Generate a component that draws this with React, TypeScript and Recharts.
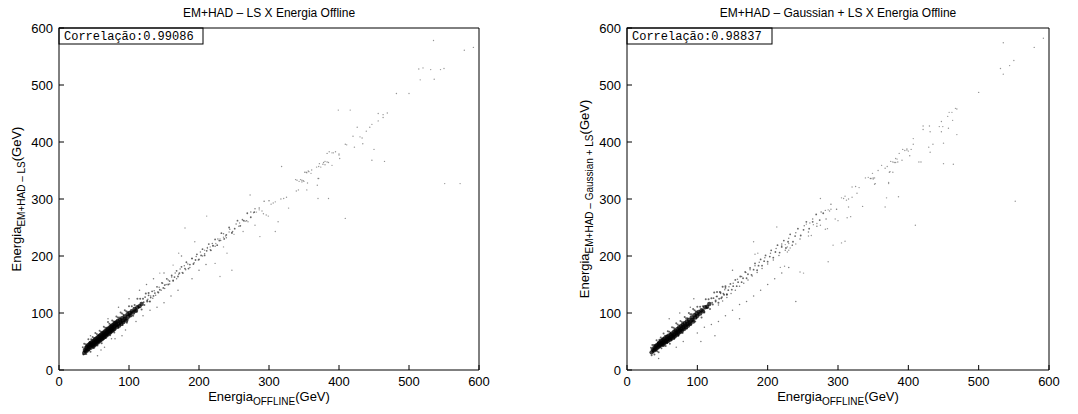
import React from 'react';
import { ScatterChart, Scatter, XAxis, YAxis } from 'recharts';

// eixos: 0..600 GeV nos dois gráficos
const TICKS = [0, 100, 200, 300, 400, 500, 600];

// EM+HAD - LS : núcleo denso, espalhamento, faixa, halo e cauda
const lsCore = [
  [36, 30], [37, 35], [38, 33], [39, 39], [40, 34], [40, 41], [42, 37], [42, 44], [43, 40], [44, 46],
  [45, 39], [45, 44], [46, 48], [47, 43], [48, 50], [48, 45], [49, 41], [50, 52], [50, 47], [51, 44],
  [52, 54], [52, 49], [53, 46], [54, 56], [54, 51], [55, 48], [56, 58], [56, 53], [57, 50], [58, 60],
  [58, 55], [59, 52], [60, 62], [60, 57], [61, 54], [62, 64], [62, 59], [63, 56], [64, 66], [64, 61],
  [65, 58], [66, 68], [66, 63], [67, 60], [68, 70], [68, 65], [69, 62], [70, 72], [70, 67], [71, 64],
  [72, 74], [72, 69], [73, 66], [74, 76], [74, 71], [75, 68], [76, 78], [76, 73], [77, 70], [78, 80],
  [78, 75], [79, 72], [80, 82], [80, 77], [82, 84], [82, 79], [83, 76], [84, 86], [85, 81], [86, 78],
  [87, 88], [88, 84], [89, 81], [90, 91], [91, 87], [92, 84], [94, 94], [95, 90], [96, 87], [98, 98],
  [99, 94], [101, 100], [102, 96], [104, 103], [106, 101], [108, 107], [110, 104], [112, 110], [115, 112],
  [118, 116],
];

const lsFuzz = [
  [34, 40], [35, 27], [36, 46], [37, 33], [38, 45], [39, 28], [40, 44], [41, 35], [42, 54], [43, 34],
  [44, 49], [45, 32], [46, 54], [47, 42], [48, 58], [49, 39], [50, 56], [51, 44], [52, 65], [53, 49],
  [54, 63], [55, 43], [56, 61], [57, 49], [58, 69], [59, 53], [60, 67], [61, 47], [62, 66], [63, 54],
  [64, 76], [65, 60], [66, 74], [67, 56], [68, 74], [69, 62], [70, 84], [71, 67], [72, 81], [73, 61],
  [74, 79], [75, 67], [76, 87], [77, 71], [78, 85], [79, 66], [80, 84], [81, 72], [82, 94], [83, 78],
  [84, 92], [85, 74], [86, 92], [87, 80], [88, 101], [89, 85], [90, 99], [91, 79], [92, 97], [93, 85],
  [94, 105], [95, 89], [96, 103], [97, 83], [98, 102], [99, 90], [100, 112], [102, 97], [104, 112],
  [106, 95], [108, 114], [110, 103], [112, 125], [114, 110], [116, 125], [118, 106], [120, 125], [122, 114],
  [124, 134], [126, 120], [128, 135], [130, 120],
];

const lsBand = [
  [121, 119], [123, 128], [126, 122], [128, 131], [131, 127], [133, 138], [135, 130], [137, 135], [140, 146],
  [142, 136], [144, 141], [147, 153], [149, 144], [151, 149], [154, 160], [156, 150], [158, 156], [161, 166],
  [163, 157], [165, 163], [168, 174], [170, 164], [172, 170], [175, 181], [177, 170], [180, 178], [182, 189],
  [185, 178], [187, 185], [190, 196], [192, 186], [195, 193], [197, 203], [200, 194], [203, 201], [205, 212],
  [208, 201], [211, 209], [214, 221], [217, 210], [220, 218], [223, 229], [226, 219], [229, 227], [232, 240],
  [236, 230], [239, 237], [243, 250], [247, 241], [251, 248], [255, 262], [259, 253], [264, 262], [269, 275],
  [274, 268], [279, 277],
];

const lsHalo = [
  [127, 124], [129, 120], [131, 130], [134, 126], [136, 139], [138, 131], [141, 137], [143, 145], [146, 140],
  [148, 152], [151, 143], [153, 150], [156, 158], [158, 151], [161, 163], [163, 156], [166, 170], [168, 160],
  [171, 168], [173, 177], [176, 171], [179, 183], [181, 176], [184, 186], [187, 180], [190, 195], [193, 188],
  [196, 199], [199, 193], [202, 207], [205, 200], [208, 204], [212, 215], [216, 211], [219, 222], [223, 217],
  [227, 230], [231, 227], [235, 239], [239, 232], [244, 247], [248, 243], [253, 256], [257, 252], [262, 264],
  [268, 262], [274, 277], [280, 283], [286, 284], [293, 296], [300, 297],
  [45, 60], [60, 35], [75, 55], [85, 110], [95, 70], [110, 85], [120, 95], [130, 105], [140, 110], [150, 118],
  [100, 125], [70, 90], [55, 25], [80, 55], [115, 140], [125, 150], [160, 130], [170, 140], [175, 200],
  [190, 160], [200, 175], [210, 185], [150, 170], [135, 160], [90, 60], [65, 40],
];

const lsTail = [
  [392, 381], [395, 383], [400, 377], [377, 361], [372, 362], [380, 360], [385, 364], [318, 357], [353, 347],
  [356, 349], [360, 345], [370, 336], [340, 333], [343, 331], [338, 334], [347, 330], [350, 331], [339, 314],
  [342, 316], [354, 316], [385, 301], [321, 301], [325, 303], [317, 300], [306, 293], [303, 291], [309, 295],
  [328, 284], [290, 279], [286, 281], [282, 277], [278, 276], [273, 307], [296, 272], [292, 274], [299, 270],
  [266, 261], [262, 263], [270, 260], [258, 258], [313, 260], [211, 270], [180, 249], [247, 240], [243, 242],
  [250, 238], [238, 235], [235, 233], [230, 230], [263, 243], [280, 254], [287, 234], [309, 243], [216, 216],
  [220, 218], [212, 213], [224, 222], [208, 210], [235, 216], [194, 225], [171, 205], [240, 205], [223, 187],
  [230, 164], [247, 175], [163, 184], [144, 170],
  [535, 578], [579, 561], [592, 566], [531, 527], [545, 527], [550, 529], [536, 510], [500, 485], [416, 456],
  [469, 451], [463, 448], [456, 450], [463, 443], [456, 437], [447, 431], [444, 426], [426, 426], [439, 419],
  [430, 409], [433, 407], [420, 410], [434, 397], [409, 396], [411, 395], [422, 391], [450, 387], [390, 381],
  [386, 383], [383, 380], [400, 379], [401, 371], [383, 365], [380, 366], [378, 364], [390, 359], [465, 366],
  [374, 356], [371, 357], [368, 356], [361, 351], [351, 347], [354, 346], [357, 348], [347, 333], [349, 332],
  [345, 334], [355, 328], [371, 336], [369, 324], [573, 327], [551, 327], [409, 266], [370, 301], [447, 368],
  [482, 485], [516, 509], [514, 528], [520, 530], [399, 456],
];

// EM+HAD - Gaussian + LS
const glsCore = [
  [35, 31], [37, 36], [38, 34], [39, 39], [40, 36], [41, 42], [42, 38], [43, 44], [44, 40], [45, 46],
  [46, 42], [46, 48], [47, 44], [48, 50], [49, 46], [50, 52], [50, 47], [51, 44], [52, 54], [52, 49],
  [53, 47], [54, 56], [55, 51], [56, 49], [57, 58], [57, 54], [58, 51], [59, 60], [60, 56], [61, 53],
  [62, 62], [62, 58], [63, 55], [64, 64], [65, 60], [66, 57], [67, 67], [67, 62], [68, 59], [69, 69],
  [70, 65], [71, 62], [72, 72], [72, 67], [73, 64], [74, 74], [75, 70], [76, 67], [77, 77], [77, 72],
  [78, 69], [79, 79], [80, 75], [81, 72], [82, 82], [83, 78], [84, 75], [85, 85], [86, 81], [87, 78],
  [88, 88], [89, 84], [90, 81], [92, 92], [93, 88], [94, 85], [96, 96], [97, 92], [99, 99], [100, 95],
  [102, 102], [104, 99], [106, 105], [108, 103], [111, 110], [114, 111], [117, 116],
];

const glsFuzz = [
  [34, 39], [35, 26], [36, 44], [37, 32], [38, 44], [39, 27], [40, 43], [41, 34], [42, 52], [43, 33],
  [44, 48], [45, 31], [46, 53], [47, 41], [48, 57], [49, 38], [50, 55], [51, 43], [52, 64], [53, 49],
  [54, 60], [55, 42], [56, 60], [57, 48], [58, 68], [59, 53], [60, 67], [61, 46], [62, 65], [63, 53],
  [64, 75], [65, 60], [66, 74], [67, 55], [68, 73], [69, 62], [70, 82], [71, 67], [72, 80], [73, 60],
  [74, 78], [75, 66], [76, 86], [77, 71], [78, 84], [79, 65], [80, 83], [81, 72], [82, 93], [83, 78],
  [84, 91], [85, 73], [86, 91], [87, 79], [88, 100], [89, 85], [90, 98], [91, 80], [92, 98], [93, 86],
  [94, 107], [95, 91], [96, 105], [97, 85], [98, 103], [99, 91], [100, 111], [102, 96], [104, 111],
  [106, 92], [108, 112], [110, 101], [112, 124], [114, 109], [116, 124], [118, 107], [120, 126], [122, 115],
  [124, 136], [126, 122], [128, 137], [130, 118], [132, 137], [134, 126], [136, 146], [138, 132], [140, 147],
  [142, 132],
];

const glsBand = [
  [121, 118], [123, 126], [126, 120], [128, 129], [131, 125], [133, 136], [135, 128], [137, 134], [140, 144],
  [142, 133], [144, 140], [147, 151], [149, 141], [151, 147], [154, 158], [156, 147], [158, 154], [161, 164],
  [163, 154], [165, 161], [168, 172], [170, 161], [172, 168], [175, 179], [177, 167], [180, 176], [182, 187],
  [185, 175], [187, 183], [190, 194], [192, 183], [195, 191], [197, 201], [200, 190], [203, 199], [205, 210],
  [208, 197], [211, 207], [214, 219], [217, 206], [220, 216], [223, 227], [226, 214], [229, 225], [232, 238],
  [236, 225], [239, 235], [243, 248], [247, 236], [251, 246], [255, 260], [259, 248], [264, 260], [269, 273],
  [274, 263], [279, 275],
];

const glsHalo = [
  [127, 129], [130, 114], [133, 134], [136, 121], [139, 141], [142, 127], [145, 146], [148, 134], [151, 152],
  [154, 140], [157, 159], [160, 147], [163, 164], [166, 152], [169, 171], [172, 158], [175, 176], [178, 165],
  [182, 183], [185, 171], [188, 189], [192, 178], [196, 197], [200, 186], [204, 205], [208, 193], [212, 213],
  [216, 201], [220, 221], [225, 210], [230, 231], [235, 219], [240, 241], [246, 230], [252, 253], [258, 242],
  [264, 265], [270, 252], [276, 277], [283, 265], [290, 291], [298, 282],
  [60, 90], [45, 20], [70, 40], [80, 50], [100, 65], [110, 75], [120, 80], [130, 85], [140, 95], [150, 105],
  [160, 115], [170, 120], [95, 125], [75, 100], [180, 130], [190, 140], [200, 150], [210, 160], [150, 175],
  [220, 170], [230, 180], [240, 120], [160, 90], [125, 60], [105, 50], [90, 110],
];

const glsTail = [
  [395, 385], [398, 386], [400, 384], [375, 366], [380, 364], [385, 365], [367, 354], [374, 348], [339, 337],
  [343, 338], [346, 336], [350, 337], [353, 327], [320, 321], [325, 322], [330, 320], [372, 327], [305, 302],
  [310, 305], [315, 300], [320, 303], [312, 298], [308, 301], [327, 310], [275, 301], [286, 281], [282, 280],
  [290, 282], [288, 279], [386, 304], [315, 286], [335, 287], [367, 286], [255, 256], [260, 258], [265, 255],
  [270, 257], [275, 254], [282, 247], [285, 248], [296, 265], [300, 262], [313, 267], [318, 269], [213, 251],
  [220, 218], [225, 220], [230, 222], [235, 219], [240, 221], [228, 216], [232, 214], [258, 235], [262, 236],
  [310, 226], [305, 223], [293, 219], [180, 225], [230, 210], [228, 207], [224, 182], [218, 180], [246, 172],
  [186, 205], [182, 203], [286, 190], [251, 170],
  [535, 574], [592, 582], [579, 566], [550, 543], [544, 534], [531, 529], [535, 519], [500, 487], [467, 459],
  [469, 458], [458, 452], [462, 452], [456, 445], [463, 438], [447, 436], [421, 428], [430, 428], [444, 427],
  [449, 427], [457, 424], [421, 422], [431, 418], [447, 418], [469, 413], [407, 406], [407, 396], [435, 396],
  [450, 398], [429, 391], [431, 382], [392, 387], [398, 388], [404, 387], [387, 380], [402, 376], [382, 371],
  [384, 370], [391, 368], [378, 365], [382, 364], [415, 365], [418, 365], [464, 361], [370, 357], [362, 359],
  [357, 350], [373, 347], [378, 347], [349, 345], [347, 336], [350, 335], [352, 337], [352, 326], [372, 329],
  [552, 296], [410, 254], [369, 302], [450, 362],
];

const SANS = '"Liberation Sans", Arial, Helvetica, sans-serif';
const MONO = '"Liberation Mono", "Courier New", monospace';

const toPts = (a: number[][]) => a.map(([x, y]) => ({ x, y }));

const dot = (r: number, fill: string, op = 1) => (p: any) =>
  <circle cx={p.cx} cy={p.cy} r={r} fill={fill} fillOpacity={op} />;

interface PanelProps {
  title: string;
  ySub: string;
  corr: string;
  core: number[][];
  fuzz: number[][];
  band: number[][];
  halo: number[][];
  tail: number[][];
  width: number;
  left: number;
  right: number;
  yLabelX: number;
  boxW: number;
}

const TOP = 28;
const BOTTOM = 44;
const H = 414;

function Panel({ title, ySub, corr, core, fuzz, band, halo, tail, width, left, right, yLabelX, boxW }: PanelProps) {
  const plotW = width - left - right;
  const cx = left + plotW / 2;
  const cy = TOP + (H - TOP - BOTTOM) / 2;
  const tickStyle = { fontSize: 13, fill: '#000', fontFamily: SANS };
  const line = { stroke: '#000' };
  // axes de 1px: margens reduzidas de 1 para manter a área do gráfico
  return (
    <ScatterChart width={width} height={H} margin={{ top: TOP - 1, left: left - 1, right: right - 1, bottom: BOTTOM - 1 }}>
      <XAxis xAxisId="b" type="number" dataKey="x" domain={[0, 600]} ticks={TICKS} interval={0}
        height={1} tickSize={-5} tickMargin={12} allowDataOverflow
        axisLine={line} tickLine={line} tick={tickStyle} />
      <XAxis xAxisId="t" orientation="top" type="number" dataKey="x" domain={[0, 600]} ticks={TICKS} interval={0}
        height={1} tickSize={-5} allowDataOverflow
        axisLine={line} tickLine={line} tick={false} />
      <YAxis yAxisId="l" type="number" dataKey="y" domain={[0, 600]} ticks={TICKS} interval={0}
        width={1} tickSize={-5} tickMargin={11} allowDataOverflow
        axisLine={line} tickLine={line} tick={tickStyle} />
      <YAxis yAxisId="r" orientation="right" type="number" dataKey="y" domain={[0, 600]} ticks={TICKS} interval={0}
        width={1} tickSize={-5} allowDataOverflow
        axisLine={line} tickLine={line} tick={false} />
      <Scatter xAxisId="b" yAxisId="l" data={toPts(halo)} isAnimationActive={false} shape={dot(0.75, '#444', 0.7)} />
      <Scatter xAxisId="b" yAxisId="l" data={toPts(tail)} isAnimationActive={false} shape={dot(0.7, '#666', 0.7)} />
      <Scatter xAxisId="b" yAxisId="l" data={toPts(band)} isAnimationActive={false} shape={dot(0.9, '#333', 0.75)} />
      <Scatter xAxisId="b" yAxisId="l" data={toPts(fuzz)} isAnimationActive={false} shape={dot(1, '#333', 0.75)} />
      <Scatter xAxisId="b" yAxisId="l" data={toPts(core)} isAnimationActive={false} shape={dot(2.2, '#000', 0.75)} />

      <text x={cx} y={17} textAnchor="middle" fontFamily={SANS} fontSize={12} fill="#000">{title}</text>

      <rect x={left} y={TOP} width={boxW} height={16} fill="#fff" stroke="#000" strokeWidth={1} />
      <text x={left + 5} y={TOP + 12} fontFamily={MONO} fontSize={12} fill="#000">{corr}</text>

      <text x={cx} y={401} textAnchor="middle" fontFamily={SANS} fontSize={13} fill="#000">
        Energia<tspan dy={4} fontSize={10}>OFFLINE</tspan><tspan dy={-4} fontSize={13}>(GeV)</tspan>
      </text>
      <text transform="rotate(-90)" x={-cy} y={yLabelX} textAnchor="middle" fontFamily={SANS} fontSize={13} fill="#000">
        Energia<tspan dy={4} fontSize={10}>{ySub}</tspan><tspan dy={-4} fontSize={13}>(GeV)</tspan>
      </text>
    </ScatterChart>
  );
}

export default function App() {
  return (
    <div style={{ position: 'absolute', left: 0, top: 0, width: 1078, height: 414, background: '#fff' }}>
      <div style={{ position: 'absolute', left: 0, top: 0 }}>
        <Panel title="EM+HAD – LS X Energia Offline" ySub="EM+HAD – LS" corr="Correlação:0.99086"
          core={lsCore} fuzz={lsFuzz} band={lsBand} halo={lsHalo} tail={lsTail}
          width={540} left={59} right={61} yLabelX={21} boxW={144} />
      </div>
      <div style={{ position: 'absolute', left: 540, top: 0 }}>
        <Panel title="EM+HAD – Gaussian + LS X Energia Offline" ySub="EM+HAD – Gaussian + LS" corr="Correlação:0.98837"
          core={glsCore} fuzz={glsFuzz} band={glsBand} halo={glsHalo} tail={glsTail}
          width={538} left={87} right={29} yLabelX={49} boxW={145} />
      </div>
    </div>
  );
}
